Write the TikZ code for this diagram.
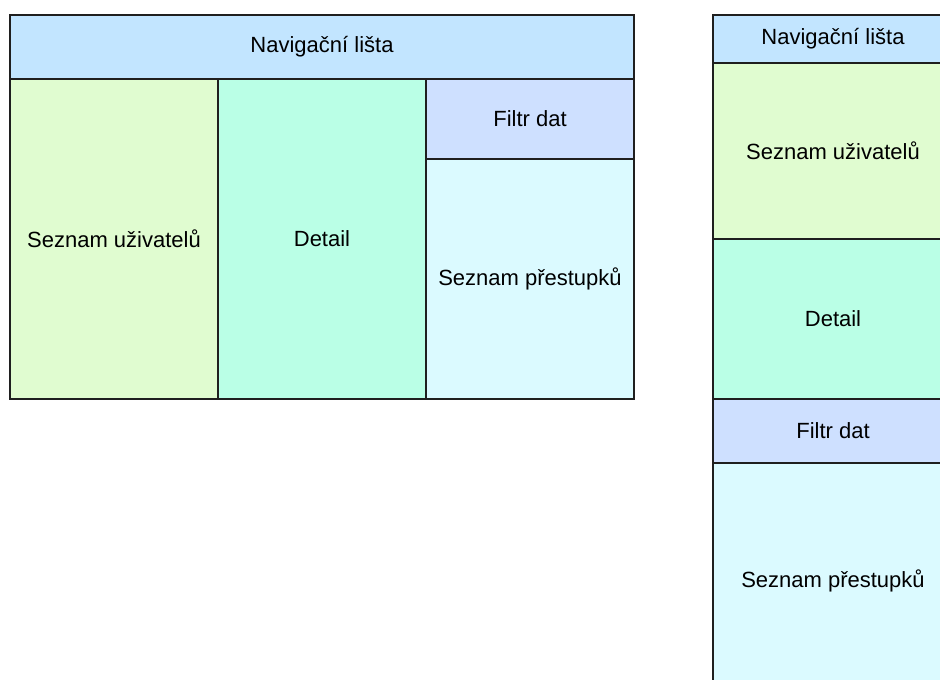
\documentclass[tikz,border=0pt]{standalone}
\usepackage{fontspec}
\setmainfont{Liberation Sans}
\definecolor{navc}{HTML}{C2E5FF}
\definecolor{usersc}{HTML}{E0FCD0}
\definecolor{detailc}{HTML}{BAFFE6}
\definecolor{filterc}{HTML}{CEE0FF}
\definecolor{offencec}{HTML}{DBFAFF}
\definecolor{edgec}{HTML}{1F1F1F}
\tikzset{
  pane/.style n args={3}{draw=edgec, line width=2pt, inner sep=0pt,
    anchor=north west, minimum width=#1, minimum height=#2, fill=#3,
    font=\fontsize{22}{26}\selectfont, text=black}
}
\begin{document}
\begin{tikzpicture}[x=1pt,y=-1pt]
\useasboundingbox (0,0) rectangle (940,680);
\fill[white] (0,0) rectangle (940,680);
% desktop layout
\node[pane={624pt}{64pt}{navc}]      (dnav)    at (9,14)   {Navigační lišta};
\node[pane={208pt}{320pt}{usersc}]   (dusers)  at (9,78)   {Seznam uživatelů};
\node[pane={208pt}{320pt}{detailc}]  (ddetail) at (217,78) {Detail};
\node[pane={208pt}{80pt}{filterc}]   (dfilter) at (425,78) {Filtr dat};
\node[pane={208pt}{240pt}{offencec}] (doff)    at (425,158){Seznam přestupků};
% mobile layout, running past the page edge
\begin{scope}
\clip (0,0) rectangle (940,680);
\node[pane={240pt}{48pt}{navc}]      (mnav)    at (712,14)  {Navigační lišta};
\node[pane={240pt}{176pt}{usersc}]   (musers)  at (712,62)  {Seznam uživatelů};
\node[pane={240pt}{160pt}{detailc}]  (mdetail) at (712,238) {Detail};
\node[pane={240pt}{64pt}{filterc}]   (mfilter) at (712,398) {Filtr dat};
\node[pane={240pt}{236pt}{offencec}] (moff)    at (712,462) {Seznam přestupků};
\end{scope}
\end{tikzpicture}
\end{document}
